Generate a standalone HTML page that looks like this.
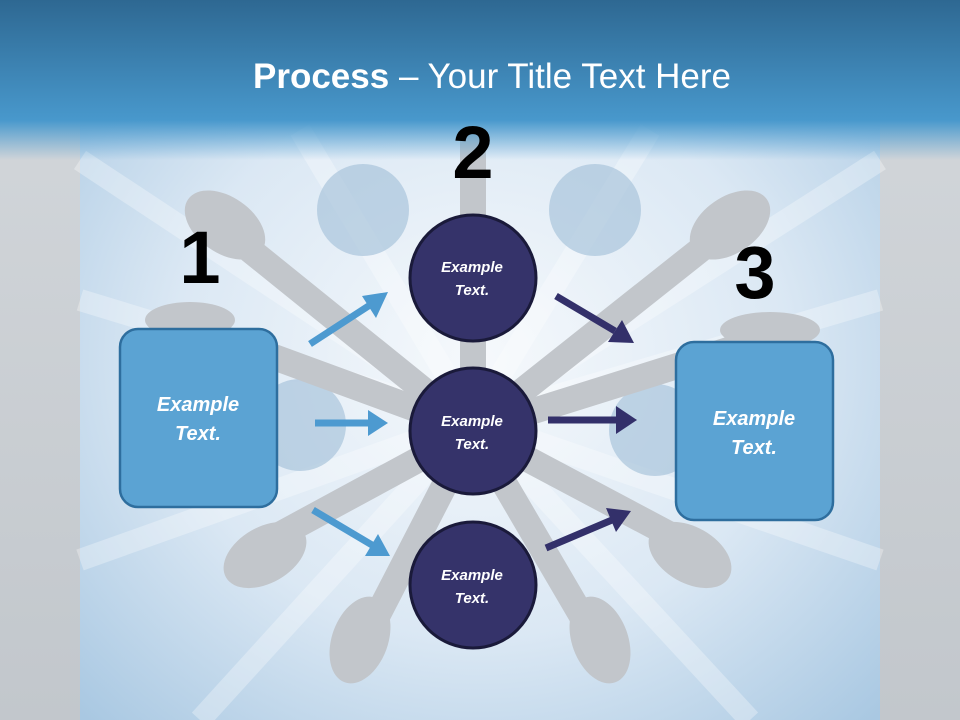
<!DOCTYPE html>
<html><head><meta charset="utf-8"><style>
html,body{margin:0;padding:0;width:960px;height:720px;overflow:hidden;font-family:"Liberation Sans",sans-serif}
</style></head><body>
<svg width="960" height="720" viewBox="0 0 960 720" xmlns="http://www.w3.org/2000/svg">
<defs>
<linearGradient id="hd" x1="0" y1="0" x2="0" y2="1">
<stop offset="0" stop-color="#2e6892"/><stop offset="0.75" stop-color="#4898cc"/><stop offset="1" stop-color="#4a9bd0" stop-opacity="0"/>
</linearGradient>
<radialGradient id="bg" cx="0.5" cy="0.5" r="0.7">
<stop offset="0" stop-color="#f6f9fc"/><stop offset="0.55" stop-color="#dbe8f4"/><stop offset="1" stop-color="#a9c8e2"/>
</radialGradient>
<linearGradient id="side" x1="0" y1="0" x2="0" y2="1">
<stop offset="0" stop-color="#d4d8dc"/><stop offset="1" stop-color="#c2c7cc"/>
</linearGradient>
</defs>
<rect width="960" height="720" fill="url(#side)"/>
<rect x="80" y="0" width="800" height="720" fill="url(#bg)"/>
<g stroke="#ffffff" stroke-opacity="0.3" stroke-width="22">
<line x1="473" y1="420" x2="80" y2="160"/><line x1="473" y1="420" x2="80" y2="300"/>
<line x1="473" y1="420" x2="80" y2="560"/><line x1="473" y1="420" x2="200" y2="720"/>
<line x1="473" y1="420" x2="880" y2="160"/><line x1="473" y1="420" x2="880" y2="300"/>
<line x1="473" y1="420" x2="880" y2="560"/><line x1="473" y1="420" x2="750" y2="720"/>
<line x1="473" y1="420" x2="300" y2="130"/><line x1="473" y1="420" x2="650" y2="130"/>
</g>
<g fill="#a9c4dc" opacity="0.7">
<circle cx="363" cy="210" r="46"/><circle cx="595" cy="210" r="46"/>
<circle cx="300" cy="425" r="46"/><circle cx="655" cy="430" r="46"/>
</g>
<g stroke="#c2c6cb" stroke-width="26" fill="none" stroke-linecap="round">
<path d="M473 430 L473 140"/><path d="M473 430 L250 250"/><path d="M473 430 L700 250"/>
<path d="M473 430 L200 330"/><path d="M473 430 L760 340"/><path d="M473 430 L270 540"/>
<path d="M473 430 L680 540"/><path d="M473 430 L370 630"/><path d="M473 430 L590 630"/>
</g>
<g fill="#c2c6cb">
<ellipse cx="225" cy="225" rx="45" ry="28" transform="rotate(35 225 225)"/>
<ellipse cx="730" cy="225" rx="45" ry="28" transform="rotate(-35 730 225)"/>
<ellipse cx="190" cy="320" rx="45" ry="18"/>
<ellipse cx="770" cy="330" rx="50" ry="18"/>
<ellipse cx="265" cy="555" rx="45" ry="28" transform="rotate(-30 265 555)"/>
<ellipse cx="690" cy="555" rx="45" ry="28" transform="rotate(30 690 555)"/>
<ellipse cx="360" cy="640" rx="28" ry="45" transform="rotate(20 360 640)"/>
<ellipse cx="600" cy="640" rx="28" ry="45" transform="rotate(-20 600 640)"/>
</g>
<rect x="0" y="0" width="960" height="160" fill="url(#hd)"/>
<text x="492" y="88" text-anchor="middle" fill="#fff" font-size="35"><tspan font-weight="bold">Process</tspan> – Your Title Text Here</text>
<g font-weight="bold" font-size="74" fill="#000" text-anchor="middle">
<text x="200" y="283">1</text><text x="473" y="178">2</text><text x="755" y="298">3</text>
</g>
<g stroke="#4d9ad0" stroke-width="7" fill="#4d9ad0">
<line x1="310" y1="344" x2="370" y2="305"/><polygon points="388,292 362,296 376,318" stroke="none"/>
<line x1="315" y1="423" x2="368" y2="423"/><polygon points="388,423 368,410 368,436" stroke="none"/>
<line x1="313" y1="510" x2="372" y2="545"/><polygon points="390,556 378,534 365,556" stroke="none"/>
</g>
<g stroke="#33306a" stroke-width="7" fill="#33306a">
<line x1="556" y1="296" x2="615" y2="331"/><polygon points="634,343 622,320 608,342" stroke="none"/>
<line x1="548" y1="420" x2="616" y2="420"/><polygon points="637,420 616,406 616,434" stroke="none"/>
<line x1="546" y1="548" x2="612" y2="520"/><polygon points="631,511 606,508 616,532" stroke="none"/>
</g>
<rect x="120" y="329" width="157" height="178" rx="18" fill="#5ba3d3" stroke="#2e6e9e" stroke-width="2.5"/>
<rect x="676" y="342" width="157" height="178" rx="18" fill="#5ba3d3" stroke="#2e6e9e" stroke-width="2.5"/>
<g font-style="italic" font-weight="bold" font-size="20" fill="#fff" text-anchor="middle">
<text x="198" y="411">Example</text><text x="198" y="440">Text.</text>
<text x="754" y="425">Example</text><text x="754" y="454">Text.</text>
</g>
<g fill="#35336a" stroke="#1a1a3a" stroke-width="3">
<circle cx="473" cy="278" r="63"/><circle cx="473" cy="431" r="63"/><circle cx="473" cy="585" r="63"/>
</g>
<g font-style="italic" font-weight="bold" font-size="15" fill="#fff" text-anchor="middle">
<text x="472" y="272">Example</text><text x="472" y="295">Text.</text>
<text x="472" y="426">Example</text><text x="472" y="449">Text.</text>
<text x="472" y="580">Example</text><text x="472" y="603">Text.</text>
</g>
</svg>
</body></html>
